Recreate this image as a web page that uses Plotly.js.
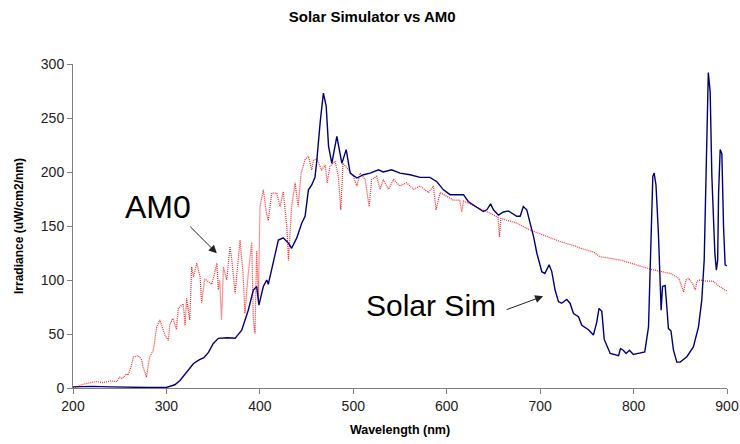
<!DOCTYPE html>
<html>
<head>
<meta charset="utf-8">
<script src="https://cdn.plot.ly/plotly-3.0.1.min.js"></script>
<style>html,body{margin:0;padding:0;background:#fff;}#chart{width:740px;height:444px;}</style>
</head>
<body>
<div id="chart"></div>
<script>
// Solar simulator spectrum (nm, uW/cm2/nm)
const simWavelength = [200,220,240,260,280,300,304,309,314.5,319,323.5,329,335,340,345,350,355.6,365,373.5,380.6,387.6,393,396.6,399,403.7,407.4,409,414.5,419.8,425,430.6,434,439.5,444.8,448.4,452,455.5,459,461,464.5,468,471,473.5,477,482.4,487.8,492.4,496.7,503.8,511,518,527,532,541,550,560.8,571.5,582,589.5,596.5,603.6,618,623,639,643,647,650,655.4,660.7,666,675,678.6,682,685.7,689,693,696.5,701.8,705,709.6,712.4,716,719.6,723,728.5,732,735.7,741,744.6,751.7,757,760.6,763,766,768.6,775,784,786,789,792,795.6,799.8,805,812,816,818.5,820.6,822,824,826.6,828.4,829.5,831,833.8,835.6,837.3,840,842.7,846.3,849.9,857,864,869.5,873,875.6,877.7,880,882,883.8,887,888.6,890,891,892.7,894.5,896.3,898,900];
const simIrradiance = [1,1.5,1,0.5,0.5,0.5,1.5,3,7,12,16,22.7,26,28,33,41,46,46.5,46,53.6,72,90.7,94,76.8,94,100,96,115.5,137,139,134,129.4,139,152.6,159,183.5,188,195,211,245.5,273,261,224,208,233,208,220.7,199,194.4,197.5,199,202,200,202,199,197.5,195,195,191,183.5,179,179,172.7,163.4,165,170.5,165,160,163,164,159,159,168,165,154,140,124.8,107.7,106,114,108,90.7,80,78.5,82,78.5,69,66,58,54,49,61,73.7,71,45,32,30,36.6,35,32,35,31,32,33.4,56.6,143,196,199,188,143,103,72,94,95,75,55,53,35,24,24,29,38,56.6,81.4,118.6,211,292,274,196,125,109,118,180.5,220.7,217,149.5,114,113];

// AM0 reference spectrum
const am0Wavelength = [200,204,211,218,225,232,240,247,250,253,257,259,262.6,264.6,270,273.5,275,278.6,282,286,289.6,293,298.4,302,303.7,307,310.7,312.7,318,320,321.6,325,327,329,332.4,336,337.7,341,345,348.5,352,354,355.6,357,359,361,364.6,368,370,373.5,378.8,382,384,387.6,391.3,393,394.8,396.6,398.4,400.2,403.7,407,409,412.7,418,421.6,425,428.8,430.6,434,437.7,441,444.2,448.4,452,455.5,457.4,461,466,470,472,475,480.5,484,486.6,489,495,500,503.8,507.4,512.7,517,519.6,525,528.7,532,537.7,543,550,557,564.6,571.5,580.5,585.8,588.6,593,600,607,614,616,618,625,636,646,650,655,656.4,658,662,675,689,703.5,721.4,739,742.8,757,764,785.6,796,818,839.6,848.5,853.5,856,859,863,866,868,871,878,885,892,898,900];
const am0Irradiance = [0.5,1,3.5,5,6,5,6.5,6,10,8.6,13,12,21,28.8,30,26,19.5,10,28.8,35,56.6,63,49,44,59,64.4,54,73.7,78,58,83,63,112,103,115.5,103,79,101,98,96,108,115.5,91,100,63,112,100,131,118.6,87.6,137,106,69,106,135,63,50.5,127,82,168,183.5,162,155,180.5,180.5,168,182,150,118,168,190,168,199,211.4,214.5,202,211,212,202,206.5,190,205,210,196,165,208,202,196,187,199,193,168,193,196,184,193,184,193,187,190,184,187,181,187,165,181,177.5,174,174,163,173,170,166,162,160,158,140,157,156,152.6,146.4,141.8,135.6,131,129.4,126,121.6,118.6,116,110,106,101.5,89,100,101.5,97,90.7,99,100,99,99,94,90.7,90];

const xTicks = [200,300,400,500,600,700,800,900];
const yTicks = [0,50,100,150,200,250,300];

const traces = [
  {x: am0Wavelength, y: am0Irradiance, type: 'scatter', mode: 'lines', name: 'AM0',
   line: {color: 'rgb(255,40,40)', width: 1.2, dash: '1px,1px'}},
  {x: simWavelength, y: simIrradiance, type: 'scatter', mode: 'lines', name: 'Solar Sim',
   line: {color: '#00007a', width: 1.4}}
];

const axisFont = {family: 'Arial, "Liberation Sans", sans-serif', size: 14, color: '#222'};
const layout = {
  width: 740, height: 444,
  margin: {l: 73, r: 13, t: 64, b: 56},
  paper_bgcolor: '#fff', plot_bgcolor: '#fff',
  showlegend: false,
  title: {text: '<b>Solar Simulator vs AM0</b>', x: 0.503, xanchor: 'center', y: 0.962, yanchor: 'middle',
          font: {family: 'Arial, "Liberation Sans", sans-serif', size: 15, color: '#000'}},
  xaxis: {range: [200, 900], tickvals: xTicks, ticktext: xTicks.map(String), showgrid: false, zeroline: false,
          showline: true, linecolor: '#808080', linewidth: 1, ticks: 'outside', ticklen: 5, tickcolor: '#808080',
          tickfont: axisFont,
          title: {text: '<b>Wavelength (nm)</b>', standoff: 12, font: {family: 'Arial, "Liberation Sans", sans-serif', size: 12.5, color: '#000'}}},
  yaxis: {range: [0, 300], tickvals: yTicks, ticktext: yTicks.map(String), showgrid: false, zeroline: false,
          showline: true, linecolor: '#808080', linewidth: 1, ticks: 'outside', ticklen: 5, tickcolor: '#808080',
          tickfont: axisFont,
          title: {text: '<b>Irradiance (uW/cm2/nm)</b>', standoff: 14, font: {family: 'Arial, "Liberation Sans", sans-serif', size: 12, color: '#000'}}},
  annotations: [
    {x: 291, y: 168, xref: 'x', yref: 'y', text: 'AM0', showarrow: false,
     font: {family: 'Arial, "Liberation Sans", sans-serif', size: 32, color: '#000'}},
    {x: 353.9, y: 124.8, xref: 'x', yref: 'y', text: '', showarrow: true, ax: -28, ay: -28,
     arrowhead: 2, arrowsize: 1.6, arrowwidth: 1, arrowcolor: '#222', standoff: 0},
    {x: 583, y: 76, xref: 'x', yref: 'y', text: 'Solar Sim', showarrow: false,
     font: {family: 'Arial, "Liberation Sans", sans-serif', size: 30, color: '#000'}},
    {x: 703.2, y: 85, xref: 'x', yref: 'y', text: '', showarrow: true, ax: -38, ay: 14,
     arrowhead: 2, arrowsize: 1.6, arrowwidth: 1, arrowcolor: '#222', standoff: 0}
  ]
};

Plotly.newPlot('chart', traces, layout, {displayModeBar: false, staticPlot: true});
</script>
</body>
</html>
